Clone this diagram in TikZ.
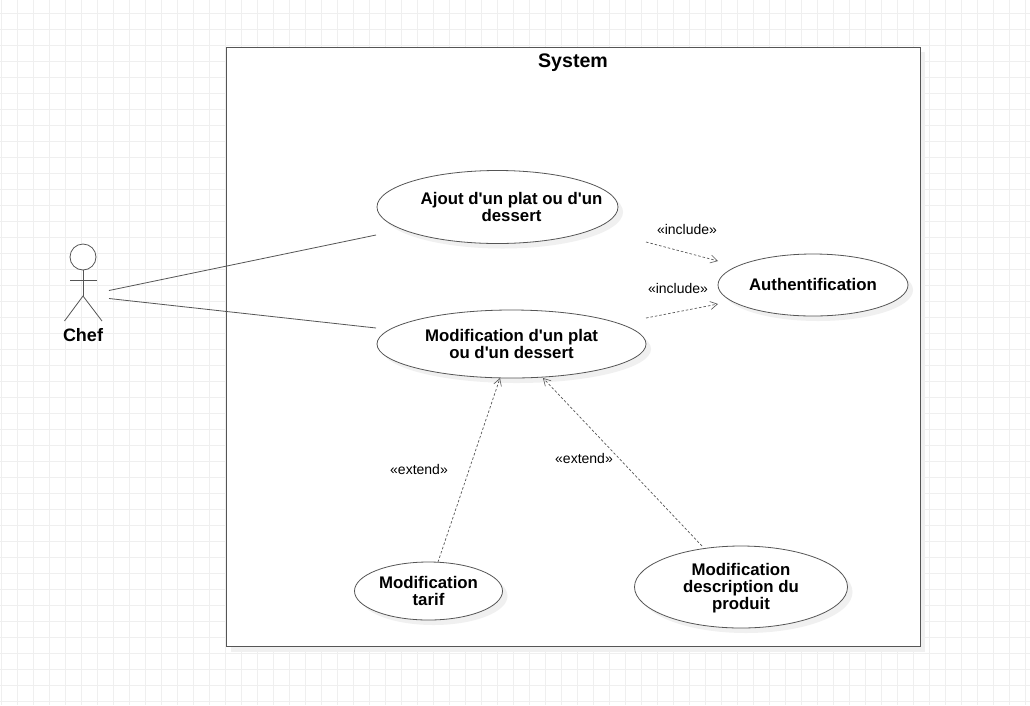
\documentclass[tikz,border=0pt]{standalone}
\usepackage{fontspec}
\setmainfont{Liberation Sans}
\newfontfamily\plainsans{Liberation Sans}
\usetikzlibrary{shapes.geometric,arrows.meta}
\definecolor{gridc}{HTML}{EFEFEF}
\definecolor{shadowc}{HTML}{F0F0F0}
\definecolor{linec}{HTML}{555555}
\tikzset{
  px/.style={x=1pt,y=-1pt},
  usecase/.style={ellipse,draw=linec,line width=0.8pt,fill=white,inner sep=-14pt,align=center,font=\plainsans\fontsize{16.8}{17}\selectfont\bfseries},
  uclabel/.style={inner sep=0pt,align=center,font=\plainsans\fontsize{16.8}{17}\selectfont\bfseries},
  ushadow/.style={ellipse,fill=shadowc,inner sep=0pt},
  assoc/.style={draw=linec,line width=0.8pt},
  depline/.style={draw=linec,line width=0.7pt,dash pattern=on 2.5pt off 2pt,-{Straight Barb[length=7pt,width=8pt,line width=0.6pt]}},
  steLabel/.style={inner sep=0pt,font=\fontsize{14}{14}\selectfont,text=black},
  stick/.style={draw=linec,line width=0.8pt}
}
\begin{document}
\begin{tikzpicture}[px]
\useasboundingbox (0,0) rectangle (1030,705);
\fill[white] (0,0) rectangle (1030,705);
% grid
\foreach \gx in {1,17,...,1030} \draw[gridc,line width=1pt] (\gx,0) -- (\gx,705);
\foreach \gy in {13,29,...,705} \draw[gridc,line width=1pt] (0,\gy) -- (1030,\gy);
% system frame
\fill[shadowc] (231,52) rectangle (925,651.5);
\node[draw=linec,line width=0.9pt,fill=white,minimum width=694pt,minimum height=599pt,inner sep=0pt,outer sep=0pt,anchor=north west] (system) at (226,47.3) {};
\node[inner sep=0pt,font=\fontsize{19.6}{20}\selectfont\bfseries] (systemtitle) at (573,63) {System};
% shadows
\node[ushadow,minimum width=241pt,minimum height=73pt] (s1) at (502.5,212) {};
\node[ushadow,minimum width=269pt,minimum height=68pt] (s2) at (516.5,349) {};
\node[ushadow,minimum width=190pt,minimum height=62pt] (s3) at (818,290) {};
\node[ushadow,minimum width=148pt,minimum height=58pt] (s4) at (433.5,596) {};
\node[ushadow,minimum width=213pt,minimum height=82pt] (s5) at (746,592) {};
% use cases
\node[usecase,minimum width=241pt,minimum height=73pt] (ajout) at (497.5,207) {};
\node[uclabel] (ajouttext) at (511.5,206.5) {Ajout d'un plat ou d'un\\dessert};
\node[usecase,minimum width=269pt,minimum height=68pt] (modif) at (511.5,344) {Modification d'un plat\\ou d'un dessert};
\node[usecase,minimum width=190pt,minimum height=62pt] (auth) at (813,285) {\raisebox{1pt}{Authentification}};
\node[usecase,minimum width=148pt,minimum height=58pt] (tarif) at (428.5,591) {Modification\\tarif};
\node[usecase,minimum width=213pt,minimum height=82pt] (descr) at (741,587) {};
\node[uclabel] (descrtext) at (741,588) {Modification\\description du\\produit};
% actor
\node[circle,draw=linec,line width=0.8pt,fill=white,minimum size=26pt,inner sep=0pt] (head) at (83,257) {};
\coordinate (hip) at (83,296);
\coordinate (armL) at (70,280);
\coordinate (armR) at (97,280);
\coordinate (footL) at (64.5,321);
\coordinate (footR) at (102,321);
\draw[stick] (head.south) -- (hip);
\draw[stick] (armL) -- (armR);
\draw[stick] (footL) -- (hip) -- (footR);
\node[inner sep=0pt,font=\fontsize{18}{18}\selectfont\bfseries] (chef) at (83,335) {Chef};
% associations
\coordinate (a1) at (109,290.5);
\coordinate (a2) at (376,235);
\coordinate (b1) at (109,298.5);
\coordinate (b2) at (376,328);
\draw[assoc] (a1) -- (a2);
\draw[assoc] (b1) -- (b2);
% dependencies
\coordinate (i1s) at (646,242);
\coordinate (i1e) at (718,261);
\coordinate (i2s) at (646,318);
\coordinate (i2e) at (718,304);
\coordinate (e1s) at (438,562);
\coordinate (e1e) at (500,378);
\coordinate (e2s) at (702,546);
\coordinate (e2e) at (543,378);
\draw[depline] (i1s) -- (i1e);
\draw[depline] (i2s) -- (i2e);
\draw[depline] (e1s) -- (e1e);
\draw[depline] (e2s) -- (e2e);
\node[steLabel] (l1) at (687,229) {«include»};
\node[steLabel] (l2) at (678,288) {«include»};
\node[steLabel] (l3) at (419,469) {«extend»};
\node[steLabel] (l4) at (584,458) {«extend»};
\end{tikzpicture}
\end{document}
